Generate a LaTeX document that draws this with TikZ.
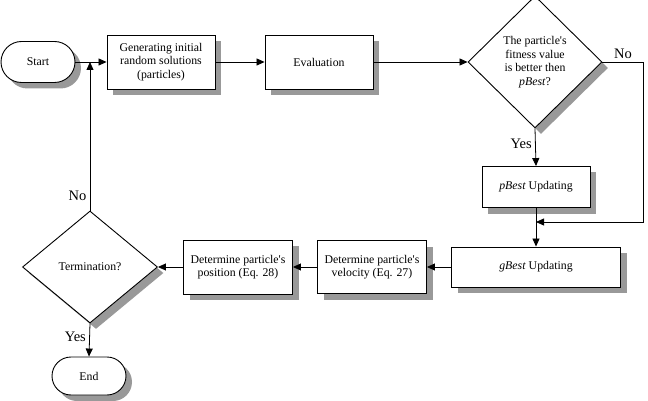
\documentclass[tikz,border=0pt]{standalone}
\usepackage{fontspec}
\setmainfont{Liberation Serif}
\usetikzlibrary{shapes.geometric,shapes.misc,shadows,arrows.meta}

\tikzset{
  boxshadow/.style={drop shadow={shadow xshift=6pt,shadow yshift=-6pt,fill=black!40,opacity=1}},
  procbox/.style={draw,line width=0.9pt,fill=white,boxshadow,inner sep=2pt,align=center,
    font=\fontsize{11.8}{13.5}\selectfont},
  termbox/.style={procbox,rounded rectangle},
  decide/.style={procbox,diamond,inner sep=0pt},
  lbl/.style={font=\fontsize{14.5}{16}\selectfont},
  flow/.style={line width=0.8pt,-{Triangle[length=8pt,width=7pt]}},
}

\begin{document}
\begin{tikzpicture}[x=1pt,y=-1pt]
  \useasboundingbox (0,0) rectangle (648,401);

  % top row
  \node[termbox, minimum width=78pt, minimum height=41pt] (start) at (38,62) {Start};
  \node[procbox, minimum width=108pt, minimum height=54pt] (init) at (161,62) {Generating initial\\random solutions\\(particles)};
  \node[procbox, minimum width=108pt, minimum height=54pt] (eval) at (319,62) {Evaluation};
  \node[decide, minimum width=134pt, minimum height=132pt] (pcheck) at (535,62)
    {The particle\textquotesingle s\\fitness value\\is better then\\\textit{pBest}?};

  % right column
  \node[procbox, minimum width=108pt, minimum height=41pt] (pbest) at (536,187) {\textit{pBest} Updating};
  \node[procbox, minimum width=169pt, minimum height=40pt] (gbest) at (536,267) {\textit{gBest} Updating};

  % bottom row
  \node[procbox, minimum width=109pt, minimum height=53pt] (vel) at (372,267) {Determine particle\textquotesingle s\\velocity (Eq. 27)};
  \node[procbox, minimum width=109pt, minimum height=54pt] (pos) at (238,267) {Determine particle\textquotesingle s\\position (Eq. 28)};
  \node[decide, minimum width=135pt, minimum height=112pt] (term) at (90,267) {Termination?};
  \node[termbox, minimum width=78pt, minimum height=38pt] (end) at (89,376) {End};

  \coordinate (merge) at (536,222);
  \coordinate (back) at (term.north |- start.east);

  \draw[flow] (start.east) -- (init.west);
  \draw[flow] (init.east) -- (eval.west);
  \draw[flow] (eval.east) -- (pcheck.west);
  \draw[flow] (pcheck.south) -- node[lbl,left,pos=0.4] {Yes} (pbest.north);
  \draw[flow] (pcheck.east) -- node[lbl,above,pos=0.5] {No} ++(41,0) |- (merge);
  \draw[flow] (pbest.south) -- (gbest.north);
  \draw[flow] (gbest.west) -- (vel.east);
  \draw[flow] (vel.west) -- (pos.east);
  \draw[flow] (pos.west) -- (term.east);
  \draw[flow] (term.north) -- node[lbl,left,pos=0.1] {No} (back);
  \draw[flow] (term.south) -- node[lbl,left,pos=0.4] {Yes} (end.north);
\end{tikzpicture}
\end{document}
